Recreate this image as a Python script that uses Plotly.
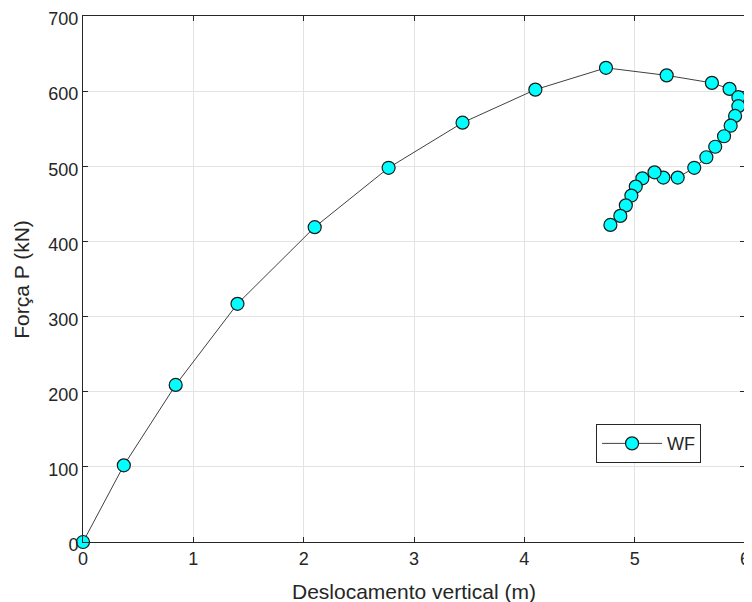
import plotly.graph_objects as go

deslocamento = [0.00, 0.37, 0.84, 1.40, 2.10, 2.77, 3.44, 4.10, 4.74, 5.29, 5.70,
                5.86, 5.94, 5.94, 5.91, 5.87, 5.81, 5.73, 5.65, 5.54, 5.39, 5.26,
                5.18, 5.07, 5.01, 4.97, 4.92, 4.87, 4.78]
forca = [0, 102, 209, 317, 419, 498, 558, 602, 631, 621, 611,
         603, 592, 580, 567, 554, 540, 526, 512, 498, 485, 485,
         492, 484, 473, 461, 448, 434, 422]

x_ticks = [0, 1, 2, 3, 4, 5, 6]
y_ticks = [0, 100, 200, 300, 400, 500, 600, 700]

FONT = "Liberation Sans, Arial, sans-serif"
TXT = "#262626"

fig = go.Figure()
fig.add_trace(go.Scatter(
    x=deslocamento, y=forca, mode="lines+markers", name="WF",
    line=dict(color="#404040", width=1),
    marker=dict(size=13, color="#00FFFF", line=dict(color="#1a1a1a", width=1.2)),
    cliponaxis=False,
))

axis_common = dict(
    showgrid=True, gridcolor="#e3e3e3", gridwidth=1,
    showline=True, linecolor=TXT, linewidth=1, mirror="ticks",
    ticks="inside", ticklen=5, tickcolor=TXT,
    zeroline=False, automargin=False, ticklabeloverflow="allow",
    tickfont=dict(family=FONT, size=18, color=TXT),
)

fig.update_xaxes(range=[0, 6], tickvals=x_ticks, **axis_common)
fig.update_yaxes(range=[0, 700], tickvals=y_ticks, ticklabelshift=3, **axis_common)

fig.add_annotation(text="Deslocamento vertical (m)", xref="paper", yref="paper",
                   x=0.5, y=-0.0932, xanchor="center", yanchor="middle",
                   showarrow=False, font=dict(family=FONT, size=21, color=TXT))
fig.add_annotation(text="Força P (kN)", xref="paper", yref="paper",
                   x=-0.094, y=0.5, xanchor="center", yanchor="middle", textangle=-90,
                   showarrow=False, font=dict(family=FONT, size=21, color=TXT))

fig.update_layout(
    width=744, height=594,
    margin=dict(l=75, r=7, t=8, b=60),
    plot_bgcolor="white", paper_bgcolor="white",
    showlegend=True,
    legend=dict(x=0.775, y=0.224, xanchor="left", yanchor="top",
                bgcolor="white", bordercolor=TXT, borderwidth=1,
                font=dict(family=FONT, size=18, color=TXT),
                itemwidth=60),
)

fig.write_html("out.html")
